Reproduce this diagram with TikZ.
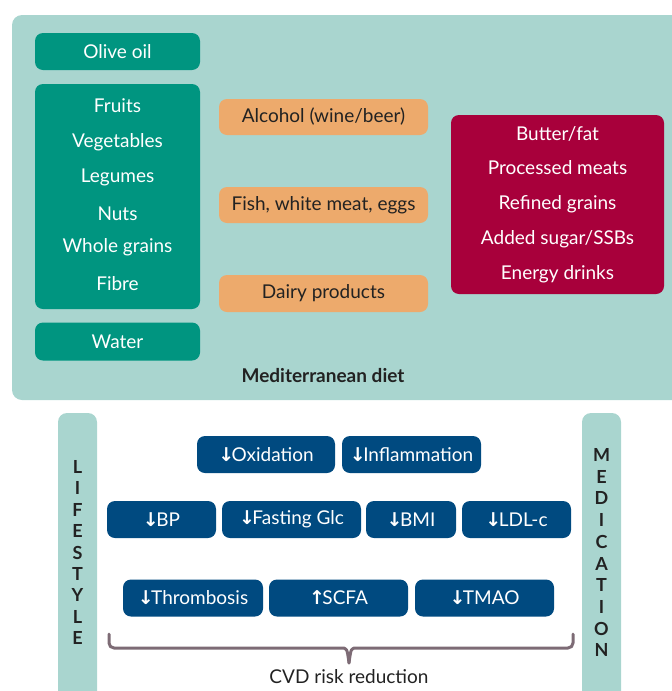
\documentclass[tikz,border=0pt]{standalone}
\usepackage{fontspec}
\setmainfont{Lato}
\newfontfamily\arrowfont{DejaVu Sans}
\definecolor{paleteal}{HTML}{A9D5CF}
\definecolor{medgreen}{HTML}{009580}
\definecolor{peach}{HTML}{EDAA6C}
\definecolor{wine}{HTML}{A8003B}
\definecolor{navy}{HTML}{004A80}
\definecolor{mauve}{HTML}{7D6B75}
\definecolor{ink}{HTML}{222222}
\newcommand{\dn}{{\arrowfont\bfseries\fontsize{19}{19}\selectfont ↓}\kern-2.5pt}
\newcommand{\upw}{{\arrowfont\bfseries\fontsize{19}{19}\selectfont ↑}\kern-2.5pt}
\begin{document}
\begin{tikzpicture}[x=1pt, y=-1pt, line join=round, line cap=round,
  every node/.style={font=\fontsize{19}{22}\selectfont},
  pill/.style={rounded corners=8pt, inner sep=0pt, text=white},
  greenpill/.style={pill, fill=medgreen, minimum width=165pt},
  peachpill/.style={pill, fill=peach, text=ink, minimum width=209pt, minimum height=36pt},
  navypill/.style={pill, fill=navy, minimum height=37pt},
  barletter/.style={font=\fontsize{18}{20}\selectfont\bfseries, text=ink, inner sep=0pt},
  brace/.style={draw=mauve, line width=3pt, rounded corners=5pt}]
  \useasboundingbox (0,0) rectangle (672,691);
  % panel of the diet
  \fill[paleteal, rounded corners=10pt] (12,15) rectangle (700,400);
  \node[greenpill, minimum height=37pt] (olive) at (117.5,51.5) {Olive oil};
  \node[greenpill, minimum height=225pt] (plants) at (117.5,196.5) {};
  \foreach \nm/\yy/\txt in {fruits/106/Fruits, veg/142/Vegetables, legumes/177/Legumes,
      nuts/214/Nuts, grains/247/Whole grains, fibre/284/Fibre}
    \node[text=white] (\nm) at (117.5,\yy) {\txt};
  \node[greenpill, minimum height=38pt] (water) at (117.5,341.5) {Water};
  \node[peachpill] (alcohol) at (323.5,117) {Alcohol (wine/beer)};
  \node[peachpill] (fish) at (323.5,205) {Fish, white meat, eggs};
  \node[peachpill, minimum height=37pt] (dairy) at (323.5,293.5) {Dairy products};
  \node[pill, fill=wine, minimum width=213pt, minimum height=179pt] (limit) at (557.5,204.5) {};
  \foreach \nm/\yy/\txt in {butter/134/{Butter/fat}, meats/168/Processed meats,
      refined/204/Refined grains, sugar/239/{Added sugar/SSBs}, energy/274/Energy drinks}
    \node[text=white] (\nm) at (557.5,\yy) {\txt};
  \node[text=ink, font=\fontsize{19}{22}\selectfont\bfseries] (diet) at (323,376) {Mediterranean diet};
  % side bars
  \fill[paleteal, rounded corners=9pt] (58,413) rectangle (97,710);
  \fill[paleteal, rounded corners=9pt] (582,413) rectangle (621,710);
  \foreach \ch [count=\i from 0] in {L,I,F,E,S,T,Y,L,E}
    \node[barletter] (life\i) at (77.5,467+21.4*\i) {\ch};
  \foreach \ch [count=\i from 0] in {M,E,D,I,C,A,T,I,O,N}
    \node[barletter] (medi\i) at (601.5,455+21.7*\i) {\ch};
  % effects
  \foreach \nm/\cx/\cy/\w/\txt in {oxid/266/454.5/138/\dn Oxidation,
      inflam/411.5/454.5/139/\dn Inflammation,
      bp/161.5/519.5/109/\dn BP, fasting/291.5/519.5/139/\dn Fasting Glc,
      bmi/411/519.5/90/\dn BMI, ldl/516.5/519.5/109/\dn LDL-c,
      thromb/193/598/140/\dn Thrombosis, scfa/338.5/598/139/\upw SCFA,
      tmao/484.5/598/139/\dn TMAO}
    \node[navypill, minimum width=\w pt] (\nm) at (\cx,\cy) {\txt};
  % brace
  \coordinate (bl) at (109,634);
  \coordinate (br) at (573,634);
  \coordinate (tip) at (349,663);
  \draw[brace] (bl) -- (109,648) -- (336,648) .. controls (347,648) .. (tip);
  \draw[brace] (br) -- (573,648) -- (362,648) .. controls (351,648) .. (tip);
  \node[text=ink] (cvd) at (349,677) {CVD risk reduction};
\end{tikzpicture}
\end{document}
